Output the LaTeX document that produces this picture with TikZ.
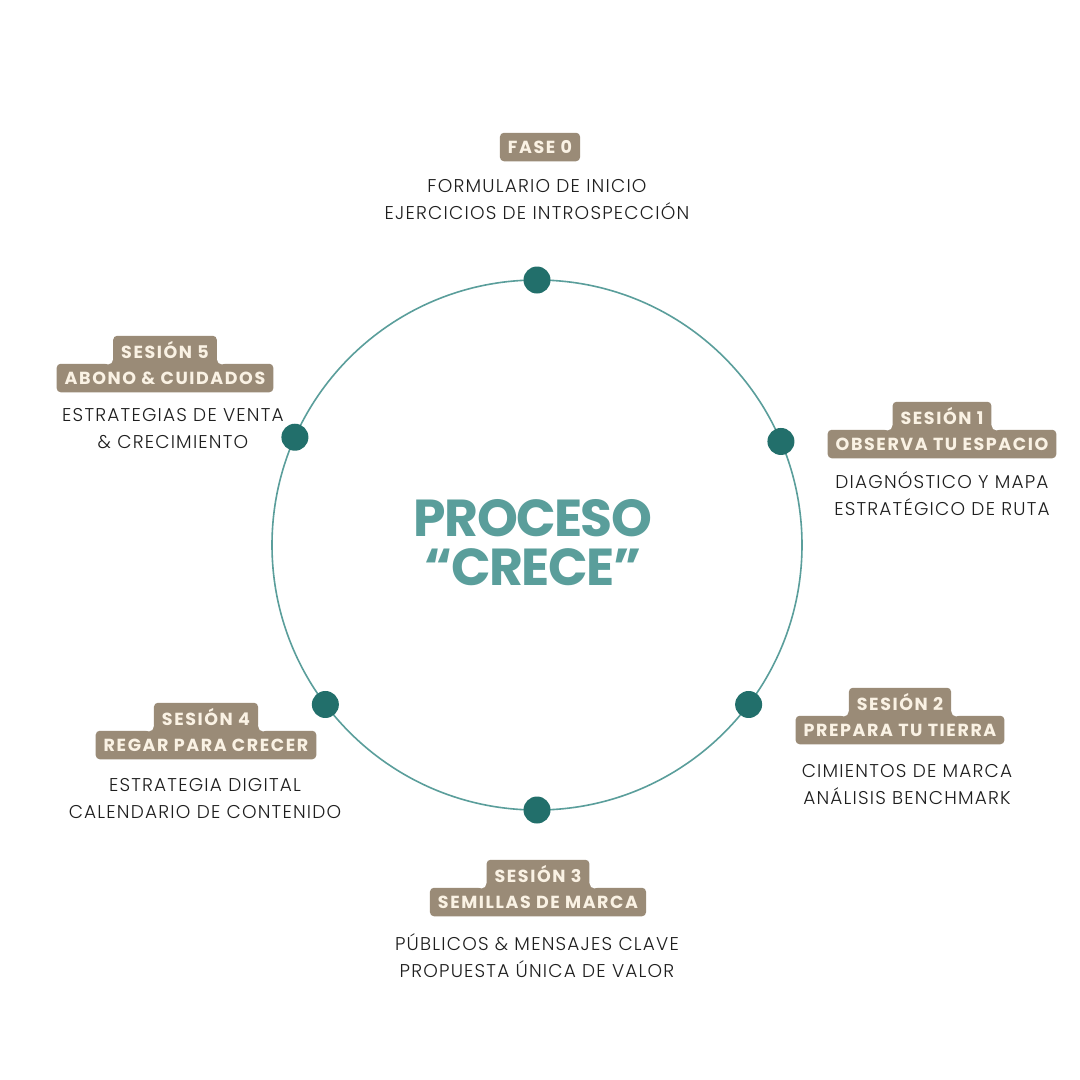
\documentclass[tikz,border=0pt]{standalone}
\usepackage{fontspec}
\setmainfont{Poppins}
\newfontfamily\bodyfont{Poppins Light}[LetterSpace=6.5]
\newfontfamily\tagfont{Poppins}[LetterSpace=9]
\newfontfamily\titlefont{Poppins}[LetterSpace=-3]
\definecolor{ringc}{HTML}{5A9E9B}
\definecolor{dotc}{HTML}{226F6B}
\definecolor{tagbg}{HTML}{9A8B77}
\definecolor{tagtx}{HTML}{FAF2E4}
\definecolor{bodytx}{HTML}{1E1E1E}
\tikzset{
  tagline/.style={fill=tagbg, text=tagtx, rounded corners=4pt, inner xsep=8pt, inner ysep=0pt,
    minimum height=28.5pt, font=\tagfont\bfseries\fontsize{17.5}{17.5}\selectfont, anchor=center},
  bodytext/.style={text=bodytx, align=center, inner sep=0pt, font=\bodyfont\fontsize{18.5}{27}\selectfont},
  dot/.style={circle, fill=dotc, minimum size=27pt, inner sep=0pt},
  titletext/.style={text=ringc, align=center, inner sep=0pt, font=\titlefont\bfseries\fontsize{52}{49}\selectfont}
}
\begin{document}
\begin{tikzpicture}[x=1pt,y=-1pt]
\fill[white] (0,0) rectangle (1080,1080);
\useasboundingbox (0,0) rectangle (1080,1080);
% ring
\node[circle, draw=ringc, line width=1.6pt, minimum size=530pt, inner sep=0pt, outer sep=0pt] (ring) at (537,545) {};
% dots
\node[dot] (d0) at (ring.90) {};
\node[dot] (d1) at (ring.23.3) {};
\node[dot] (d2) at (ring.-37.3) {};
\node[dot] (d3) at (ring.-90) {};
\node[dot] (d4) at (ring.217.5) {};
\node[dot] (d5) at (ring.156.7) {};
% title
\node[titletext] (title) at (533,543) {PROCESO\\“CRECE”};
% Fase 0
\node[tagline] (t0) at (540,147) {FASE 0};
\node[bodytext] (b0) at (537,200) {FORMULARIO DE INICIO\\EJERCICIOS DE INTROSPECCIÓN};
% Sesion 1
\node[tagline] (t1b) at (942,444) {OBSERVA TU ESPACIO};
\node[tagline] (t1a) at (942,416) {SESIÓN 1};
\node[bodytext] (b1) at (942,494) {DIAGNÓSTICO Y MAPA\\ESTRATÉGICO DE RUTA};
% Sesion 2
\node[tagline] (t2b) at (900,730) {PREPARA TU TIERRA};
\node[tagline] (t2a) at (900,702) {SESIÓN 2};
\node[bodytext] (b2) at (907,785) {CIMIENTOS DE MARCA\\ANÁLISIS BENCHMARK};
% Sesion 3
\node[tagline] (t3b) at (538,902) {SEMILLAS DE MARCA};
\node[tagline] (t3a) at (538,874) {SESIÓN 3};
\node[bodytext] (b3) at (537,956) {PÚBLICOS \& MENSAJES CLAVE\\PROPUESTA ÚNICA DE VALOR};
% Sesion 4
\node[tagline] (t4b) at (206,745) {REGAR PARA CRECER};
\node[tagline] (t4a) at (206,717) {SESIÓN 4};
\node[bodytext] (b4) at (205,799) {ESTRATEGIA DIGITAL\\CALENDARIO DE CONTENIDO};
% Sesion 5
\node[tagline] (t5b) at (165,378) {ABONO \& CUIDADOS};
\node[tagline] (t5a) at (165,350) {SESIÓN 5};
\node[bodytext] (b5) at (173,429) {ESTRATEGIAS DE VENTA\\\& CRECIMIENTO};
% concave fillets where the two tag lines join
\foreach \n in {t1a,t2a,t3a,t4a,t5a}{
  \fill[tagbg] (\n.south west) ++(-5,0) rectangle ++(10,-5);
  \fill[white] (\n.south west) ++(-5,-5) circle (5);
  \fill[tagbg] (\n.south east) ++(-5,0) rectangle ++(10,-5);
  \fill[white] (\n.south east) ++(5,-5) circle (5);
}
\end{tikzpicture}
\end{document}
